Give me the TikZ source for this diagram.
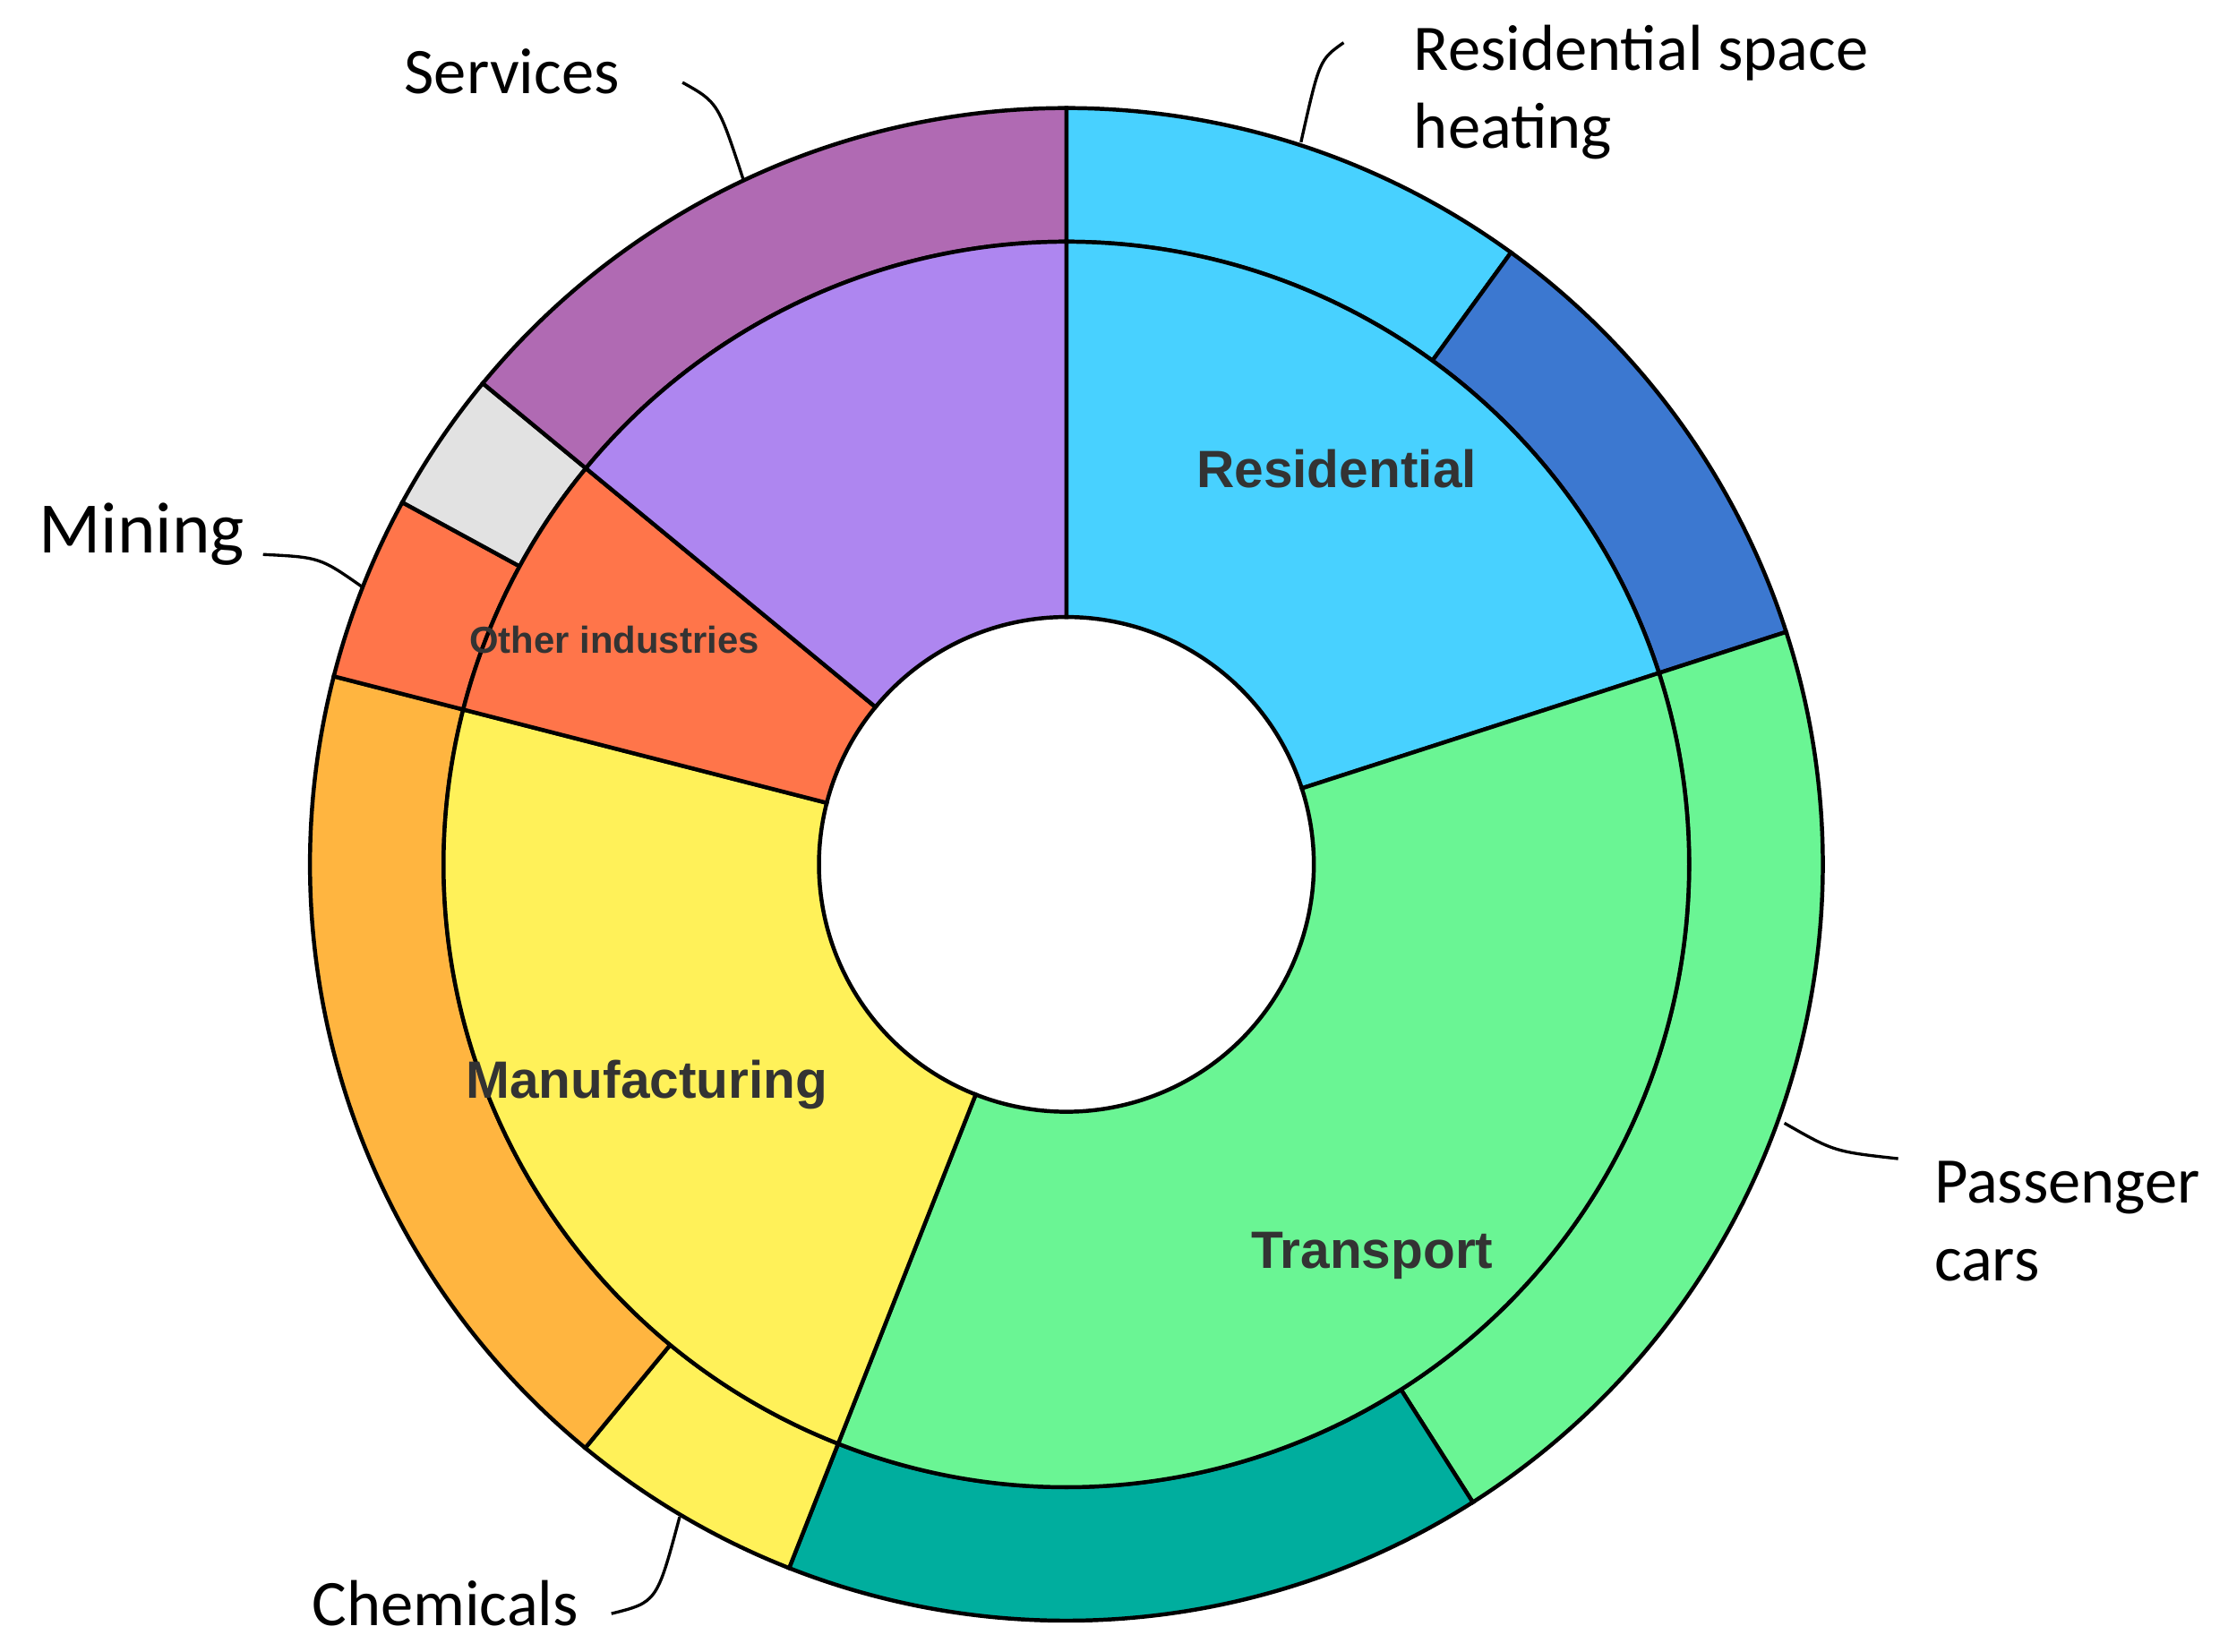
\documentclass[tikz,border=0pt]{standalone}
\usepackage{fontspec}
\setmainfont{Carlito}
\newfontfamily\lab{Liberation Sans}
\definecolor{servO}{HTML}{B06AB3}
\definecolor{servI}{HTML}{AE86F0}
\definecolor{resL}{HTML}{48D1FF}
\definecolor{resD}{HTML}{3C78D0}
\definecolor{trG}{HTML}{6AF594}
\definecolor{trT}{HTML}{00AE9E}
\definecolor{manY}{HTML}{FFF159}
\definecolor{manO}{HTML}{FFB540}
\definecolor{othR}{HTML}{FF754A}
\definecolor{othG}{HTML}{E2E2E2}
\definecolor{txt}{HTML}{333333}
\newcommand{\ringseg}[5]{\filldraw[seg,fill=#5] (#3:#2) arc[start angle=#3,end angle=#4,radius=#2*0.01cm] -- (#4:#1) arc[start angle=#4,end angle=#3,radius=#1*0.01cm] -- cycle;}
\tikzset{seg/.style={draw=black,line width=0.8pt},
inlab/.style={font=\lab\bfseries\fontsize{10.5pt}{12pt}\selectfont,text=txt},
outlab/.style={font=\fontsize{13pt}{15.5pt}\selectfont,text=black,align=left},
lead/.style={draw=black,line width=0.6pt}}
\begin{document}
\begin{tikzpicture}[x=0.01cm,y=0.01cm]
\useasboundingbox (0,0) rectangle (1567,1162);
\begin{scope}[shift={(750,554)}]
% outer ring
\ringseg{438}{532}{54}{90}{resL}
\ringseg{438}{532}{17.9}{54}{resD}
\ringseg{438}{532}{-57.5}{17.9}{trG}
\ringseg{438}{532}{248.5}{302.5}{trT}
\ringseg{438}{532}{230.5}{248.5}{manY}
\ringseg{438}{532}{165.6}{230.5}{manO}
\ringseg{438}{532}{151.4}{165.6}{othR}
\ringseg{438}{532}{140.5}{151.4}{othG}
\ringseg{438}{532}{90}{140.5}{servO}
% inner ring
\ringseg{174}{438}{17.9}{90}{resL}
\ringseg{174}{438}{-111.5}{17.9}{trG}
\ringseg{174}{438}{165.6}{248.5}{manY}
\ringseg{174}{438}{140.5}{165.6}{othR}
\ringseg{174}{438}{90}{140.5}{servI}
\end{scope}
\node[inlab] (res) at (940,832) {Residential};
\node[inlab,font=\lab\bfseries\fontsize{7.5pt}{9pt}\selectfont] (oth) at (432,712) {Other industries};
\node[inlab] (man) at (455,399) {Manufacturing};
\node[inlab] (tra) at (965,279) {Transport};
\node[outlab,anchor=west] (serv) at (272,1112) {Services};
\node[outlab,anchor=west] (rsh) at (982,1097) {Residential space\\heating};
\node[outlab,anchor=west,font=\fontsize{14.5pt}{17pt}\selectfont] (min) at (15,786) {Mining};
\node[outlab,anchor=west] (pas) at (1348,303) {Passenger\\cars};
\node[outlab,anchor=west] (che) at (207,34) {Chemicals};
\coordinate (s1) at (480,1104); \coordinate (s2) at (523,1035);
\draw[lead] (s1) .. controls (505,1090) .. (s2);
\coordinate (r1) at (945,1132); \coordinate (r2) at (915,1062);
\draw[lead] (r1) .. controls (928,1120) .. (r2);
\coordinate (m1) at (185,772); \coordinate (m2) at (255,749);
\draw[lead] (m1) .. controls (225,770) .. (m2);
\coordinate (p1) at (1335,347); \coordinate (p2) at (1255,372);
\draw[lead] (p1) .. controls (1290,352) .. (p2);
\coordinate (c1) at (430,27); \coordinate (c2) at (478,95);
\draw[lead] (c1) .. controls (462,35) .. (c2);
\end{tikzpicture}
\end{document}
